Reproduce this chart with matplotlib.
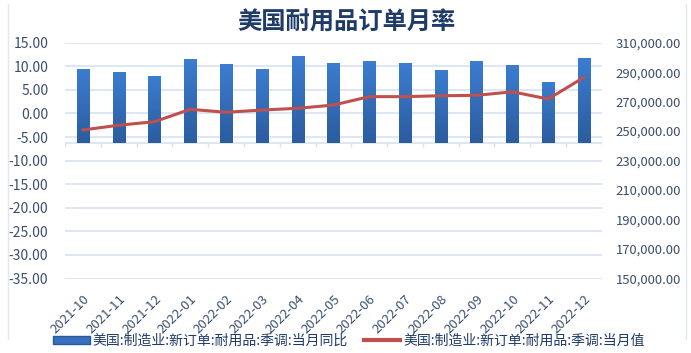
import matplotlib
matplotlib.use("Agg")
import matplotlib.pyplot as plt
import numpy as np
from matplotlib.lines import Line2D
from matplotlib.patches import Patch
from matplotlib.colors import LinearSegmentedColormap

plt.rcParams['font.family'] = ['Noto Sans CJK SC', 'DejaVu Sans']

months = ["2021-10", "2021-11", "2021-12", "2022-01", "2022-02", "2022-03", "2022-04",
          "2022-05", "2022-06", "2022-07", "2022-08", "2022-09", "2022-10", "2022-11", "2022-12"]
yoy = [9.4, 8.7, 7.9, 11.5, 10.5, 9.4, 12.2, 10.7, 11.2, 10.7, 9.2, 11.2, 10.2, 6.6, 11.7]
level = [250800, 254000, 256400, 264800, 262800, 264300, 265500, 267700,
         273400, 273400, 274000, 274300, 276700, 271800, 286500]
left_ticks = [15, 10, 5, 0, -5, -10, -15, -20, -25, -30, -35]
right_ticks = [310000, 290000, 270000, 250000, 230000, 210000, 190000, 170000, 150000]
title = "美国耐用品订单月率"
bar_label = "美国:制造业:新订单:耐用品:季调:当月同比"
line_label = "美国:制造业:新订单:耐用品:季调:当月值"

base = -6.2
text_col = "#3B4E6B"
grid_col = "#D6E2F2"

fig = plt.figure(figsize=(6.91, 3.53), dpi=100)
ax = fig.add_axes([0.094, 0.211, 0.777, 0.668])
x = np.arange(len(months))

heights = [v - base for v in yoy]
bars = ax.bar(x, heights, bottom=base, width=0.34, color="#3670BE", zorder=3)
grad = np.linspace(0, 1, 256).reshape(-1, 1)
cmap = LinearSegmentedColormap.from_list("g", ["#2B5C9E", "#3C7DD0"])
for b in bars:
    x0, y0 = b.get_x(), b.get_y()
    w, h = b.get_width(), b.get_height()
    im = ax.imshow(grad, extent=[x0, x0 + w, y0, y0 + h], origin="lower",
                   cmap=cmap, aspect="auto", zorder=3.1)
    im.set_clip_path(b)

ax.set_xlim(-0.5, len(months) - 0.5)
ax.set_ylim(-35, 15)
ax.set_yticks(left_ticks)
ax.set_yticklabels([f"{v:.2f}" for v in left_ticks])
ax.grid(axis="y", color=grid_col, linewidth=1.2, zorder=0)
ax.axhline(base, color=grid_col, linewidth=1.2, zorder=2)
ax.vlines(np.arange(len(months) + 1) - 0.5, base - 0.9, base, color=grid_col,
          linewidth=1.0, zorder=2)
for s in ax.spines.values():
    s.set_visible(False)
ax.set_xticks(x)
ax.set_xticklabels(months, rotation=45, ha="right", va="top", rotation_mode="anchor")
ax.tick_params(axis="x", length=0, pad=10, labelsize=9.5, labelcolor=text_col)
ax.tick_params(axis="y", length=0, pad=12, labelsize=10, labelcolor=text_col)

ax2 = ax.twinx()
ax2.plot(x, level, color="#C0504D", linewidth=2.2, zorder=4, solid_capstyle="round")
ax2.set_ylim(150000, 310000)
ax2.set_yticks(right_ticks)
ax2.set_yticklabels([f"{v:,.2f}" for v in right_ticks])
ax2.tick_params(axis="y", length=0, pad=10, labelsize=9.4, labelcolor=text_col)
for s in ax2.spines.values():
    s.set_visible(False)

fig.text(0.502, 0.937, title, ha="center", va="center", fontsize=17.5,
         fontweight="bold", color="#1F3B68")

handles = [Patch(facecolor="#3670BE", edgecolor="#2A5894"), Line2D([0], [0], color="#C0504D", linewidth=3)]
fig.legend(handles, [bar_label, line_label], loc="center", bbox_to_anchor=(0.505, 0.035),
           ncol=2, frameon=False, fontsize=10, handlelength=2.6, handleheight=0.5,
           columnspacing=1.2, handletextpad=0.2, labelcolor="#1F3B68")

fig.add_artist(Line2D([8 / 691, 8 / 691], [0.04, 0.99], color="#E3E8EF", linewidth=1))
fig.add_artist(Line2D([686 / 691, 686 / 691], [0.04, 0.99], color="#E3E8EF", linewidth=1))

fig.savefig("out.png", dpi=100)
